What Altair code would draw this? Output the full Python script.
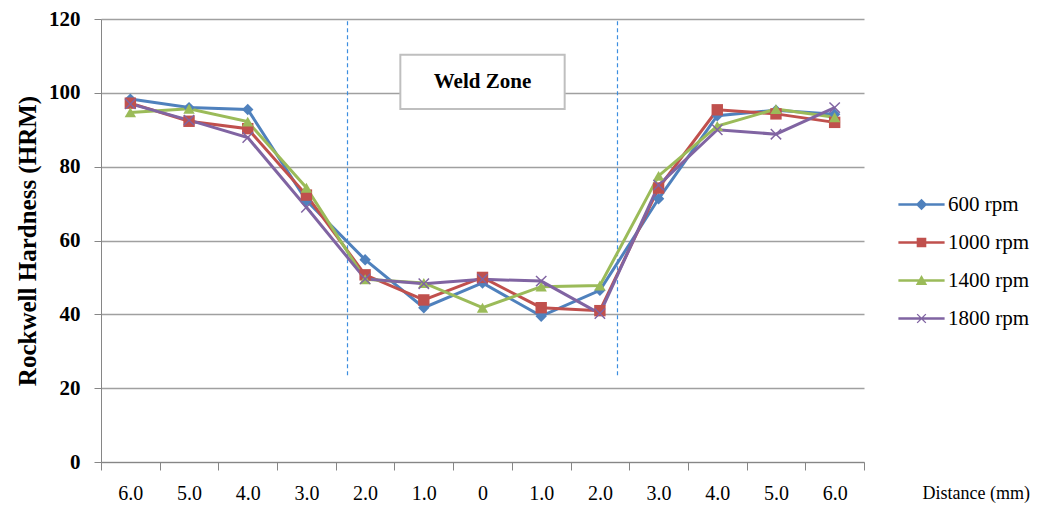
import json
import altair as alt
import pandas as pd

# ---------------- data ----------------
series = ["600 rpm", "1000 rpm", "1400 rpm", "1800 rpm"]
positions = list(range(13))
tick_labels = ["6.0", "5.0", "4.0", "3.0", "2.0", "1.0", "0", "1.0", "2.0", "3.0", "4.0", "5.0", "6.0"]

hrm_600 = [98.3, 96.0, 95.5, 70.8, 54.8, 41.8, 48.5, 39.5, 46.5, 71.3, 93.8, 95.3, 94.2]
hrm_1000 = [97.2, 92.3, 90.3, 72.3, 50.7, 43.9, 50.0, 41.8, 41.0, 74.2, 95.4, 94.3, 92.0]
hrm_1400 = [94.7, 95.7, 92.2, 74.3, 49.5, 48.5, 41.8, 47.5, 47.8, 77.5, 91.0, 95.6, 93.4]
hrm_1800 = [97.0, 92.6, 87.9, 69.0, 49.6, 48.3, 49.5, 49.0, 40.2, 75.0, 90.0, 88.8, 96.0]

colors = ["#4F81BD", "#C0504D", "#9BBB59", "#8064A2"]

# weld zone annotation (data coordinates)
weld_bounds = [3.7, 8.3]
weld_rule_y = [23.5, 120]
weld_box = {"x": 4.6, "x2": 7.4, "y": 95.6, "y2": 110.3}
weld_text = {"x": 6.0, "y": 103.0, "label": "Weld Zone"}

rows = []
for name, vals in zip(series, [hrm_600, hrm_1000, hrm_1400, hrm_1800]):
    for p, v in zip(positions, vals):
        rows.append({"series": name, "pos": p, "value": v})
df = pd.DataFrame(rows)

FONT = "Liberation Serif"
GRAY = "#868686"

W, H = 763, 443
band = W / 13.0

tick_values = [i - 0.5 for i in range(14)]
label_expr = "(" + json.dumps(tick_labels) + ")[datum.value + 0.5] || ''"

x_enc = alt.X(
    "pos:Q",
    scale=alt.Scale(domain=[-0.5, 12.5], nice=False, zero=False),
    axis=alt.Axis(
        values=tick_values,
        labelExpr=label_expr,
        labelOffset=band / 2,
        labelFont=FONT,
        labelFontSize=20,
        labelColor="black",
        labelPadding=13,
        tickSize=8,
        tickColor=GRAY,
        domainColor=GRAY,
        grid=False,
        title="Distance (mm)",
        titleFont=FONT,
        titleFontSize=18,
        titleFontWeight="normal",
        titleColor="black",
        titleX=821,
        titleY=31,
        titleAlign="left",
        titleBaseline="middle",
        labelFlush=False,
        labelOverlap=False,
    ),
)

y_enc = alt.Y(
    "value:Q",
    scale=alt.Scale(domain=[0, 120], nice=False),
    axis=alt.Axis(
        values=[0, 20, 40, 60, 80, 100, 120],
        labelFont=FONT,
        labelFontSize=21,
        labelFontWeight="bold",
        labelColor="black",
        labelPadding=14,
        tickSize=7,
        tickColor=GRAY,
        domainColor=GRAY,
        gridColor="#A0A0A0",
        gridWidth=1.5,
        title="Rockwell Hardness (HRM)",
        titleFont=FONT,
        titleFontSize=25,
        titleFontWeight="bold",
        titleColor="black",
        titleAngle=270,
        titleX=-74,
        titleY=H / 2,
        titleAlign="center",
        titleBaseline="middle",
    ),
)

plot_shapes = [
    "diamond",
    "square",
    "triangle-up",
    "M-1,-0.82L-0.82,-1L0,-0.18L0.82,-1L1,-0.82L0.18,0L1,0.82L0.82,1L0,0.18L-0.82,1L-1,0.82L-0.18,0Z",
]
line_part = "M-3.85,-0.22L3.85,-0.22L3.85,0.22L-3.85,0.22Z"
legend_shapes = [
    line_part + "M0,-0.95L0.95,0L0,0.95L-0.95,0Z",
    line_part + "M-0.8,-0.8L0.8,-0.8L0.8,0.8L-0.8,0.8Z",
    line_part + "M0,-0.9L0.95,0.75L-0.95,0.75Z",
    line_part + "M-0.8,-0.65L-0.65,-0.8L0,-0.15L0.65,-0.8L0.8,-0.65L0.15,0L0.8,0.65L0.65,0.8L0,0.15L-0.65,0.8L-0.8,0.65L-0.15,0Z",
]

def cscale():
    return alt.Scale(domain=series, range=colors)

base = alt.Chart(df)

lines = base.mark_line(strokeWidth=3).encode(
    x=x_enc, y=y_enc,
    color=alt.Color("series:N", scale=cscale(), legend=None),
)

points = base.mark_point(filled=True, size=130, opacity=1).encode(
    x=x_enc, y=y_enc,
    color=alt.Color("series:N", scale=cscale(), legend=None),
    shape=alt.Shape("series:N", scale=alt.Scale(domain=series, range=plot_shapes), legend=None),
)

leg = alt.Legend(title=None, orient="none", legendX=810, legendY=175, padding=0)
legend_layer = base.mark_point(filled=True, opacity=1).encode(
    x=x_enc, y=y_enc,
    color=alt.Color("series:N", scale=cscale(), legend=leg),
    shape=alt.Shape("series:N", scale=alt.Scale(domain=series, range=legend_shapes), legend=leg),
).transform_filter("false")

rules_df = pd.DataFrame({"x": weld_bounds, "y": [weld_rule_y[0]] * 2, "y2": [weld_rule_y[1]] * 2})
rules = alt.Chart(rules_df).mark_rule(color="#3D8EE0", strokeWidth=1.2, strokeDash=[4, 3]).encode(
    x=alt.X("x:Q"), y=alt.Y("y:Q"), y2="y2:Q"
)

box_df = pd.DataFrame([weld_box])
box = alt.Chart(box_df).mark_rect(fill="white", stroke="#BFBFBF", strokeWidth=2).encode(
    x="x:Q", x2="x2:Q", y="y:Q", y2="y2:Q"
)

text_df = pd.DataFrame([weld_text])
text = alt.Chart(text_df).mark_text(
    font=FONT, fontSize=21, fontWeight="bold", color="black", baseline="middle", align="center"
).encode(x="x:Q", y="y:Q", text="label:N")

chart = (
    alt.layer(rules, box, text, lines, points, legend_layer)
    .resolve_scale(color="independent", shape="independent")
    .properties(
        width=W,
        height=H,
        autosize=alt.AutoSizeParams(type="none"),
        padding={"left": 93, "top": 11, "right": 174, "bottom": 42},
    )
    .configure_view(strokeWidth=0)
    .configure_legend(
        labelFont=FONT,
        labelFontSize=21,
        labelColor="black",
        symbolSize=144,
        labelOffset=16,
        rowPadding=16,
    )
)

chart.save("out.html", embed_options={"renderer": "svg", "actions": False})
